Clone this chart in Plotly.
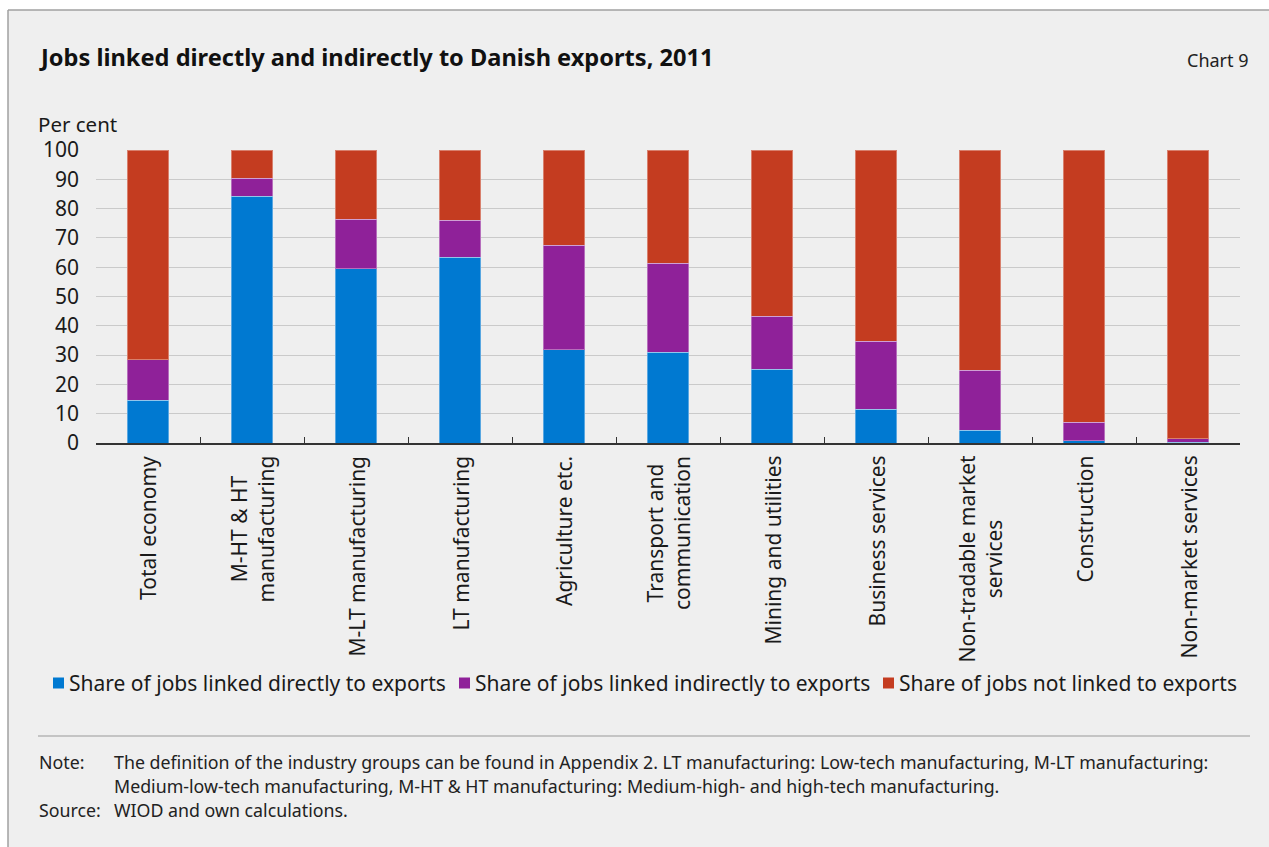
import plotly.graph_objects as go

categories = [
    "Total economy",
    "M-HT & HT<br>manufacturing",
    "M-LT manufacturing",
    "LT manufacturing",
    "Agriculture etc.",
    "Transport and<br>communication",
    "Mining and utilities",
    "Business services",
    "Non-tradable market<br>services",
    "Construction",
    "Non-market services",
]
direct = [14.6, 84.3, 59.4, 63.4, 31.9, 30.9, 25.1, 11.5, 4.3, 0.8, 0.3]
indirect_top = [28.4, 90.4, 76.3, 76.0, 67.5, 61.3, 43.2, 34.7, 24.9, 7.0, 1.5]
indirect = [round(t - d, 1) for t, d in zip(indirect_top, direct)]
not_linked = [round(100 - t, 1) for t in indirect_top]

series_names = [
    "Share of jobs linked directly to exports",
    "Share of jobs linked indirectly to exports",
    "Share of jobs not linked to exports",
]
series_colors = ["#0079D1", "#8F2199", "#C43C20"]

FONT = "Noto Sans"
W, H = 1269, 847
L, R, T, B = 96, 29, 150, 404
PW, PH = W - L - R, H - T - B


def px(x):
    return (x - L) / PW


def py(y):
    return (H - B - y) / PH


fig = go.Figure()
for name, vals, col in zip(series_names, [direct, indirect, not_linked], series_colors):
    fig.add_trace(go.Bar(
        x=categories, y=vals, name=name, showlegend=False,
        marker=dict(color=col, line=dict(color="rgba(255,255,255,0.35)", width=1)),
    ))

NOTE = 17.8
annotations = [
    dict(text="<b>Jobs linked directly and indirectly to Danish exports, 2011</b>",
         xref="paper", yref="paper", x=px(37), y=py(57), xanchor="left", yanchor="middle",
         showarrow=False, font=dict(size=23.6, family=FONT, color="#111111")),
    dict(text="Chart 9", xref="paper", yref="paper", x=px(1251), y=py(60),
         xanchor="right", yanchor="middle", showarrow=False,
         font=dict(size=18, family=FONT, color="#222222")),
    dict(text="Per cent", xref="paper", yref="paper", x=px(36), y=py(124),
         xanchor="left", yanchor="middle", showarrow=False,
         font=dict(size=20.5, family=FONT, color="#1a1a1a")),
    dict(text="Note:", xref="paper", yref="paper", x=px(37), y=py(762),
         xanchor="left", yanchor="middle", showarrow=False,
         font=dict(size=NOTE, family=FONT, color="#222222")),
    dict(text="The definition of the industry groups can be found in Appendix 2. LT manufacturing: Low-tech manufacturing, M-LT manufacturing:",
         xref="paper", yref="paper", x=px(112), y=py(762),
         xanchor="left", yanchor="middle", showarrow=False,
         font=dict(size=NOTE, family=FONT, color="#222222")),
    dict(text="Medium-low-tech manufacturing, M-HT & HT manufacturing: Medium-high- and high-tech manufacturing.",
         xref="paper", yref="paper", x=px(112), y=py(786),
         xanchor="left", yanchor="middle", showarrow=False,
         font=dict(size=NOTE, family=FONT, color="#222222")),
    dict(text="Source:", xref="paper", yref="paper", x=px(37), y=py(810),
         xanchor="left", yanchor="middle", showarrow=False,
         font=dict(size=NOTE, family=FONT, color="#222222")),
    dict(text="WIOD and own calculations.", xref="paper", yref="paper", x=px(112), y=py(810),
         xanchor="left", yanchor="middle", showarrow=False,
         font=dict(size=NOTE, family=FONT, color="#222222")),
]
# category labels, rotated, centred lines, top-aligned under the axis
for cat in categories:
    annotations.append(dict(
        text=cat, xref="x", x=cat, yref="paper", y=py(454), xanchor="center", yanchor="top",
        textangle=-90, align="center", showarrow=False,
        font=dict(size=21, family=FONT, color="#1a1a1a"),
    ))

shapes = [
    dict(type="rect", xref="paper", yref="paper", x0=px(0), x1=px(W), y0=py(0), y1=py(10),
         fillcolor="white", line=dict(width=0), layer="below"),
    dict(type="rect", xref="paper", yref="paper", x0=px(0), x1=px(8), y0=py(0), y1=py(H),
         fillcolor="white", line=dict(width=0), layer="below"),
    dict(type="line", xref="paper", yref="paper", x0=px(8), x1=px(W), y0=py(10), y1=py(10),
         line=dict(color="#A0A0A0", width=1.5)),
    dict(type="line", xref="paper", yref="paper", x0=px(8), x1=px(8), y0=py(10), y1=py(H),
         line=dict(color="#A0A0A0", width=1.5)),
    dict(type="line", xref="paper", yref="paper", x0=px(38), x1=px(1250), y0=py(736), y1=py(736),
         line=dict(color="#999999", width=1)),
]

# legend: coloured square + label for each series
legend_x = [53, 459, 883]
LEG_Y = 683
for name, col, lx in zip(series_names, series_colors, legend_x):
    shapes.append(dict(type="rect", xref="paper", yref="paper",
                       x0=px(lx), x1=px(lx + 11), y0=py(LEG_Y - 5.5), y1=py(LEG_Y + 5.5),
                       fillcolor=col, line=dict(width=0)))
    annotations.append(dict(text=name, xref="paper", yref="paper", x=px(lx + 14), y=py(LEG_Y),
                            xanchor="left", yanchor="middle", showarrow=False,
                            font=dict(size=21, family=FONT, color="#1a1a1a")))

fig.update_layout(
    width=W, height=H,
    barmode="stack", bargap=0.6,
    paper_bgcolor="#EFEFEF", plot_bgcolor="#EFEFEF",
    margin=dict(l=L, r=R, t=T, b=B),
    font=dict(family=FONT, color="#1a1a1a", size=20),
    showlegend=False,
    xaxis=dict(
        type="category", showticklabels=False, showgrid=False,
        showline=True, linecolor="#333333", linewidth=1.5,
        ticks="inside", tickson="boundaries", ticklen=6, tickcolor="#333333",
        fixedrange=True,
    ),
    yaxis=dict(
        range=[0, 100], dtick=10, showgrid=True, gridcolor="#CACACA", gridwidth=1,
        zeroline=False, showline=False, ticks="",
        tickfont=dict(size=21, family=FONT), ticklabelstandoff=16, fixedrange=True,
    ),
    shapes=shapes,
    annotations=annotations,
)

fig.write_html(
    "out.html",
    config={"displayModeBar": False},
    post_script="document.body.style.margin='0';document.body.style.overflow='hidden';",
)
